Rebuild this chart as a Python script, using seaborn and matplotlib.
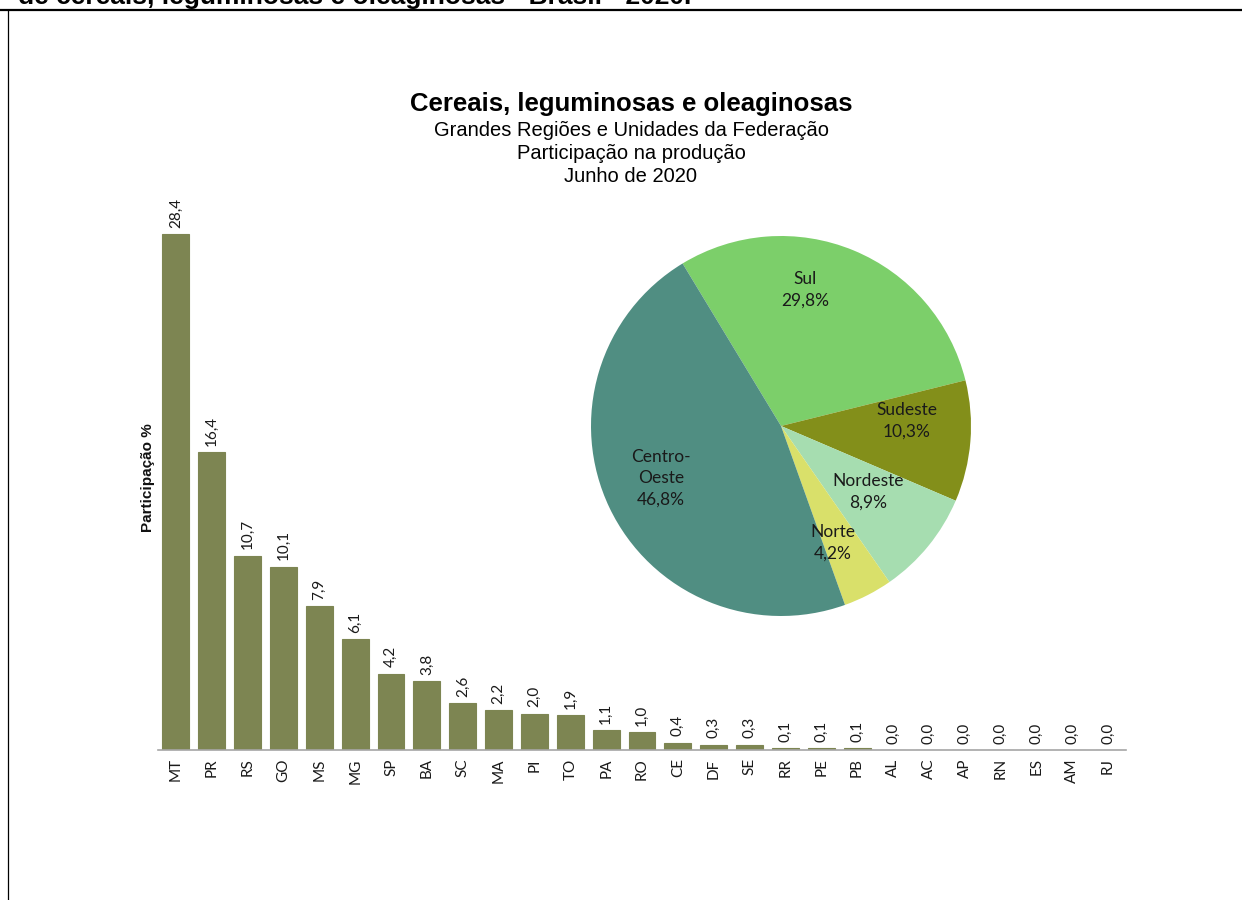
import matplotlib
matplotlib.use("Agg")
import matplotlib.pyplot as plt
import seaborn as sns
import pandas as pd
from matplotlib.lines import Line2D

# ---- data ----
states = ["MT", "PR", "RS", "GO", "MS", "MG", "SP", "BA", "SC", "MA", "PI", "TO", "PA", "RO",
          "CE", "DF", "SE", "RR", "PE", "PB", "AL", "AC", "AP", "RN", "ES", "AM", "RJ"]
shares = [28.4, 16.4, 10.7, 10.1, 7.9, 6.1, 4.2, 3.8, 2.6, 2.2, 2.0, 1.9, 1.1, 1.0,
          0.4, 0.3, 0.3, 0.1, 0.1, 0.1, 0.0, 0.0, 0.0, 0.0, 0.0, 0.0, 0.0]

regions = ["Sul", "Sudeste", "Nordeste", "Norte", "Centro-\nOeste"]
region_shares = [29.8, 10.3, 8.9, 4.2, 46.8]
region_colors = ["#7CCF6A", "#838F1A", "#A6DDB0", "#D9E06A", "#508E82"]

title = "Cereais, leguminosas e oleaginosas"
subtitles = ["Grandes Regiões e Unidades da Federação", "Participação na produção", "Junho de 2020"]
top_text = "de cereais, leguminosas e oleaginosas - Brasil - 2020."

sns.set_theme(style="white")
plt.rcParams["font.family"] = ["Liberation Sans", "DejaVu Sans"]

W, H = 1242, 900
fig = plt.figure(figsize=(W / 100, H / 100), dpi=100)
fig.patch.set_facecolor("white")

def fx(px):
    return px / W

def fy(py):
    return 1 - py / H

# ---- bar chart ----
ax = fig.add_axes([fx(158), fy(750), fx(1126) - fx(158), fy(205) - fy(750)])
df = pd.DataFrame({"UF": states, "Participação": shares})
sns.barplot(data=df, x="UF", y="Participação", color="#7D8552", saturation=1,
            width=0.75, ax=ax, edgecolor="#7D8552", linewidth=0.8)
ax.set_xlim(-0.5, len(states) - 0.5)
ax.set_ylim(0, 30)
for s in ["top", "right", "left"]:
    ax.spines[s].set_visible(False)
ax.spines["bottom"].set_color("#A6A6A6")
ax.spines["bottom"].set_linewidth(1.2)
ax.set_yticks([])
ax.set_xlabel("")
ax.set_ylabel("")
ax.tick_params(axis="x", length=0, pad=6)
for lab in ax.get_xticklabels():
    lab.set_rotation(90)
    lab.set_fontfamily(["Lato", "DejaVu Sans"])
    lab.set_fontsize(11)
    lab.set_color("#1a1a1a")
ax.patch.set_alpha(0)
for i, v in enumerate(shares):
    ax.annotate(f"{v:.1f}".replace(".", ","), (i, v), xytext=(0, 4.5),
                textcoords="offset points", rotation=90, ha="center", va="bottom",
                fontsize=11, family=["Lato", "DejaVu Sans"], color="#1a1a1a")

fig.text(fx(148), fy(478), "Participação %", rotation=90, ha="center", va="center",
         fontsize=11, fontweight="bold", color="#111111")

# ---- pie chart ----
cx, cy, r = 781, 426, 190
pax = fig.add_axes([fx(cx - r), fy(cy + r), fx(2 * r), (2 * r) / H])
pax.pie(region_shares, colors=region_colors, startangle=121.2, counterclock=False,
        radius=1, wedgeprops=dict(linewidth=0))
pax.set_xlim(-1, 1)
pax.set_ylim(-1, 1)
pax.set_aspect("equal")
pax.axis("off")
label_pos = [(0.126, 0.716), (0.663, 0.026), (0.458, -0.347), (0.274, -0.616), (-0.632, -0.274)]
for name, val, (lx, ly) in zip(regions, region_shares, label_pos):
    pax.text(lx, ly, f"{name}\n{val:.1f}%".replace(".", ","), ha="center", va="center",
             fontsize=12.5, family=["Lato", "DejaVu Sans"], color="#1a1a1a", linespacing=1.4)

# ---- titles ----
fig.text(fx(631), fy(104), title, ha="center", va="center", fontsize=18.5, fontweight="bold", color="black")
for k, s in enumerate(subtitles):
    fig.text(fx(631), fy(131 + 22.5 * k), s, ha="center", va="center", fontsize=14.5, color="black")

# cut-off heading at the top
fig.text(fx(18), fy(4), top_text, ha="left", va="baseline", fontsize=19, fontweight="bold", color="black")

# frame lines
fig.add_artist(Line2D([0, 1], [fy(10), fy(10)], color="black", linewidth=1.6, transform=fig.transFigure))
fig.add_artist(Line2D([fx(8), fx(8)], [fy(10), 0], color="black", linewidth=0.9, transform=fig.transFigure))

fig.savefig("out.png", dpi=100, facecolor="white")
